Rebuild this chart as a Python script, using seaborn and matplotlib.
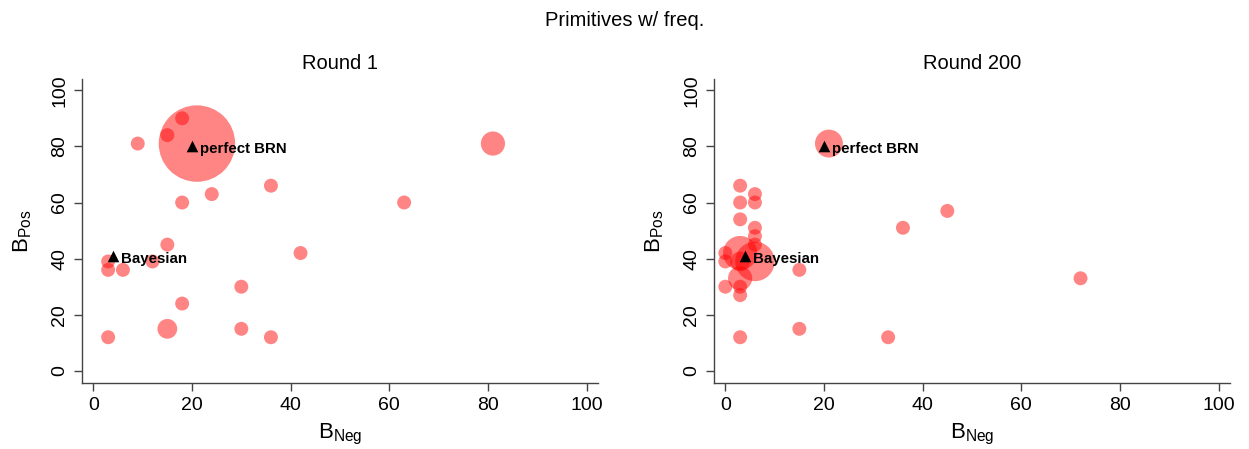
import numpy as np
import pandas as pd
import matplotlib
matplotlib.use("Agg")
import matplotlib.pyplot as plt
import seaborn as sns

# ---------------- data ----------------
r1_neg  = [21, 81, 15, 9, 18, 15, 36, 24, 18, 63, 15, 42, 3, 3, 6, 12, 30, 18, 30, 36, 3]
r1_pos  = [81, 81, 15, 81, 90, 84, 66, 63, 60, 60, 45, 42, 39, 36, 36, 39, 30, 24, 15, 12, 12]
r1_freq = [30, 3, 2, 1, 1, 1, 1, 1, 1, 1, 1, 1, 1, 1, 1, 1, 1, 1, 1, 1, 1]

r200_neg  = [21, 3, 6, 3, 6, 3, 6, 6, 6, 3, 6, 3, 0, 0, 0, 3, 3, 3, 3, 15, 15, 33, 36, 45, 72]
r200_pos  = [81, 66, 63, 60, 60, 54, 51, 48, 45, 42, 39, 39, 42, 39, 30, 33, 30, 27, 12, 36, 15, 12, 51, 57, 33]
r200_freq = [4, 1, 1, 1, 1, 1, 1, 1, 1, 6, 8, 2, 1, 1, 1, 3, 1, 1, 1, 1, 1, 1, 1, 1, 1]

ref_names = ["Bayesian", "perfect BRN"]
ref_neg = [4, 20]
ref_pos = [41, 80]

panel_titles = ["Round 1", "Round 200"]
suptitle = "Primitives w/ freq."
ticks = [0, 20, 40, 60, 80, 100]

# ---------------- style ----------------
sns.set_theme(style="ticks")
plt.rcParams["font.family"] = ["Liberation Sans", "DejaVu Sans"]
plt.rcParams["mathtext.fontset"] = "custom"
plt.rcParams["mathtext.rm"] = "Liberation Sans"
plt.rcParams["mathtext.it"] = "Liberation Sans"
plt.rcParams["text.color"] = "black"
plt.rcParams["axes.labelcolor"] = "black"
plt.rcParams["xtick.color"] = "black"
plt.rcParams["ytick.color"] = "black"

fig = plt.figure(figsize=(12.49, 4.49), dpi=100)
W, H = 1249, 449
axes = [fig.add_axes([82 / W, 1 - 383 / H, 516 / W, 304 / H]),
        fig.add_axes([714 / W, 1 - 383 / H, 516 / W, 304 / H])]

panels = [(r1_neg, r1_pos, r1_freq), (r200_neg, r200_pos, r200_freq)]
ref_df = pd.DataFrame({"neg": ref_neg, "pos": ref_pos, "name": ref_names})

for ax, (xn, yp, fr), title in zip(axes, panels, panel_titles):
    df = pd.DataFrame({"neg": xn, "pos": yp, "freq": fr})
    sns.scatterplot(data=df, x="neg", y="pos", size="freq",
                    sizes=(101, 3030), size_norm=(1, 30),
                    color="red", alpha=0.48, linewidth=0, legend=False, ax=ax)
    sns.scatterplot(data=ref_df, x="neg", y="pos", marker="^", s=70,
                    color="black", linewidth=0, legend=False, ax=ax, zorder=5)
    for _, r in ref_df.iterrows():
        ax.annotate(r["name"], (r["neg"], r["pos"]), xytext=(5.5, -5),
                    textcoords="offset points", ha="left", va="baseline",
                    fontsize=10.8, fontweight="bold", color="black", zorder=6)
    ax.set_xlim(-2.3, 102.3)
    ax.set_ylim(-4.3, 104)
    ax.set_xticks(ticks)
    ax.set_yticks(ticks)
    ax.tick_params(axis="both", labelsize=14, length=6, width=1,
                   color="#444444", labelcolor="black", direction="out", pad=4)
    plt.setp(ax.get_yticklabels(), rotation=90, va="center")
    ax.set_xlabel(r"$\mathrm{B}_{\mathrm{Neg}}$", fontsize=16, labelpad=6)
    ax.set_ylabel(r"$\mathrm{B}_{\mathrm{Pos}}$", fontsize=16, labelpad=12)
    ax.set_title(title, fontsize=14.5, pad=7)
    sns.despine(ax=ax)
    for sp in ("left", "bottom"):
        ax.spines[sp].set_color("#444444")
        ax.spines[sp].set_linewidth(1)

fig.suptitle(suptitle, fontsize=14.5, y=1 - 20 / H, va="center")
fig.savefig("out.png", dpi=100)
